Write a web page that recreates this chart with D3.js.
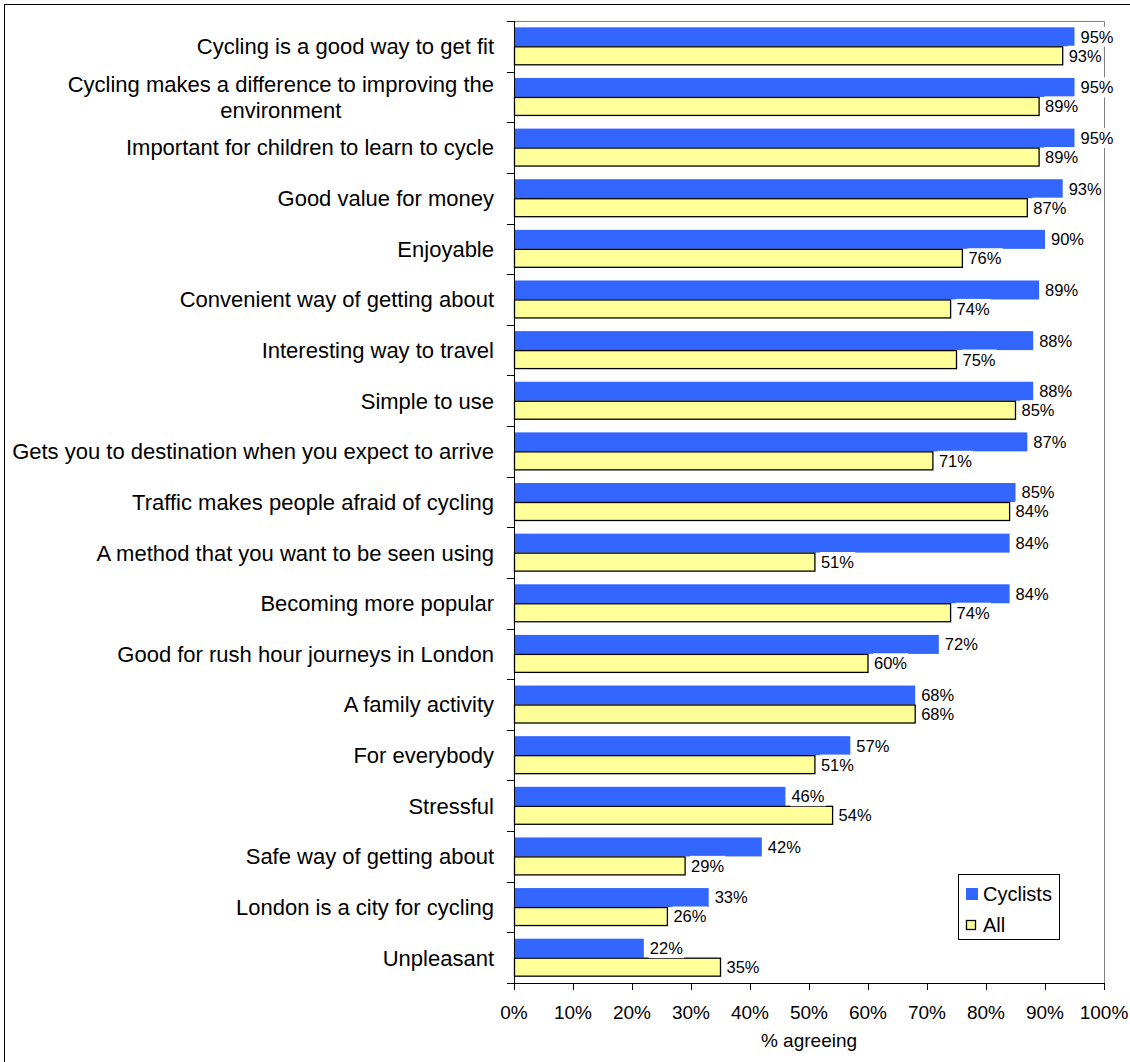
<!DOCTYPE html>
<html>
<head>
<meta charset="utf-8">
<script src="https://cdn.jsdelivr.net/npm/d3@7"></script>
<style>
  html, body { margin: 0; padding: 0; background: #fff; }
  svg { display: block; font-family: Arial, "Liberation Sans", Helvetica, sans-serif; }
</style>
</head>
<body>
<svg id="chart" width="1130" height="1062"></svg>
<script>
// Attitudes to cycling: share agreeing with each statement
const categories = [
  "Cycling is a good way to get fit",
  "Cycling makes a difference to improving the|environment",
  "Important for children to learn to cycle",
  "Good value for money",
  "Enjoyable",
  "Convenient way of getting about",
  "Interesting way to travel",
  "Simple to use",
  "Gets you to destination when you expect to arrive",
  "Traffic makes people afraid of cycling",
  "A method that you want to be seen using",
  "Becoming more popular",
  "Good for rush hour journeys in London",
  "A family activity",
  "For everybody",
  "Stressful",
  "Safe way of getting about",
  "London is a city for cycling",
  "Unpleasant"
];
const cyclists = [95, 95, 95, 93, 90, 89, 88, 88, 87, 85, 84, 84, 72, 68, 57, 46, 42, 33, 22];
const allPeople = [93, 89, 89, 87, 76, 74, 75, 85, 71, 84, 51, 74, 60, 68, 51, 54, 29, 26, 35];
const seriesNames = ["Cyclists", "All"];
const xTicks = [0, 10, 20, 30, 40, 50, 60, 70, 80, 90, 100];
const xTitle = "% agreeing";

const colors = { Cyclists: "#3366FF", All: "#FFFF99" };

const svg = d3.select("#chart");
const plot = { left: 514, right: 1104, top: 21, bottom: 983 };

// outer frame (runs off the right and bottom edges)
svg.append("rect")
  .attr("x", 4.5).attr("y", 4.5)
  .attr("width", 1200).attr("height", 1200)
  .attr("fill", "#fff").attr("stroke", "#000").attr("stroke-width", 1);

const x = d3.scaleLinear().domain([0, 100]).range([plot.left, plot.right]);
const y = d3.scaleBand().domain(d3.range(categories.length))
  .range([plot.top, plot.bottom]).paddingInner(0.25).paddingOuter(0.125);
const ySub = d3.scaleBand().domain(seriesNames).range([0, y.bandwidth()]);
const step = y.step();

// gray plot frame (top and right)
svg.append("path")
  .attr("d", `M${plot.left},${plot.top + 0.5}H${plot.right + 0.5}V${plot.bottom}`)
  .attr("fill", "none").attr("stroke", "#808080").attr("stroke-width", 1);

const rows = categories.map((c, i) => ({ i, label: c, values: [cyclists[i], allPeople[i]] }));

const g = svg.append("g");
const bars = g.selectAll("g.row").data(rows).join("g").attr("class", "row");

bars.each(function (d) {
  const sel = d3.select(this);
  seriesNames.forEach((s, k) => {
    const v = d.values[k];
    const y0 = y(d.i) + ySub(s);
    const h = ySub.bandwidth();
    if (s === "Cyclists") {
      sel.append("rect")
        .attr("x", x(0)).attr("y", y0)
        .attr("width", x(v) - x(0)).attr("height", h)
        .attr("fill", colors[s]);
    } else {
      sel.append("rect")
        .attr("x", x(0) + 0.5).attr("y", y0 + 0.5)
        .attr("width", x(v) - x(0) - 0.5).attr("height", h - 1)
        .attr("fill", colors[s]).attr("stroke", "#000").attr("stroke-width", 1.3);
    }
  });
});

// value labels with white backing boxes
const labelLayer = svg.append("g");
rows.forEach(d => {
  seriesNames.forEach((s, k) => {
    const v = d.values[k];
    const cy = y(d.i) + ySub(s) + ySub.bandwidth() / 2;
    const lg = labelLayer.append("g");
    const bg = lg.append("rect").attr("fill", "#fff");
    const t = lg.append("text")
      .attr("x", x(v) + 6).attr("y", cy)
      .attr("dy", "0.36em")
      .attr("font-size", 16.5)
      .attr("fill", "#000")
      .text(v + "%");
    const bb = t.node().getBBox();
    bg.attr("x", bb.x - 1).attr("y", bb.y - 1)
      .attr("width", bb.width + 2).attr("height", bb.height + 2);
  });
});

// left axis: category labels and ticks at group boundaries
const yAxis = svg.append("g");
yAxis.append("line")
  .attr("x1", plot.left + 0.5).attr("x2", plot.left + 0.5)
  .attr("y1", plot.top).attr("y2", plot.bottom + 7)
  .attr("stroke", "#000");
d3.range(categories.length + 1).forEach(k => {
  const yy = Math.round(plot.top + k * step) + 0.5;
  yAxis.append("line")
    .attr("x1", plot.left - 7).attr("x2", plot.left)
    .attr("y1", yy).attr("y2", yy).attr("stroke", "#000");
});
rows.forEach(d => {
  const lines = d.label.split("|");
  const cy = y(d.i) + y.bandwidth() / 2;
  const lh = 26;
  const t = yAxis.append("text")
    .attr("font-size", 22).attr("fill", "#000");
  lines.forEach((ln, j) => {
    t.append("tspan")
      .attr("y", cy + (j - (lines.length - 1) / 2) * lh)
      .attr("dy", "0.36em")
      .text(ln);
  });
  // lines centred within their block, block right-aligned to the axis
  const spans = t.selectAll("tspan").nodes();
  const widths = spans.map(n => n.getComputedTextLength());
  const maxW = d3.max(widths);
  const right = plot.left - 20;
  spans.forEach((n, j) => {
    d3.select(n).attr("x", right - maxW + (maxW - widths[j]) / 2);
  });
});

// bottom axis
const xAxis = svg.append("g");
xAxis.append("line")
  .attr("x1", plot.left).attr("x2", plot.right + 0.5)
  .attr("y1", plot.bottom + 0.5).attr("y2", plot.bottom + 0.5)
  .attr("stroke", "#000");
xTicks.forEach(tk => {
  const xx = Math.round(x(tk)) + 0.5;
  xAxis.append("line")
    .attr("x1", xx).attr("x2", xx)
    .attr("y1", plot.bottom).attr("y2", plot.bottom + 7)
    .attr("stroke", "#000");
  xAxis.append("text")
    .attr("x", x(tk)).attr("y", 1019)
    .attr("text-anchor", "middle")
    .attr("font-size", 19).attr("fill", "#000")
    .text(tk + "%");
});
svg.append("text")
  .attr("x", (plot.left + plot.right) / 2).attr("y", 1047)
  .attr("text-anchor", "middle")
  .attr("font-size", 19).attr("fill", "#000")
  .text(xTitle);

// legend
const legend = svg.append("g");
legend.append("rect")
  .attr("x", 958.5).attr("y", 874.5).attr("width", 101).attr("height", 65)
  .attr("fill", "#fff").attr("stroke", "#000");
legend.append("rect")
  .attr("x", 966).attr("y", 888).attr("width", 12).attr("height", 12)
  .attr("fill", colors.Cyclists);
legend.append("rect")
  .attr("x", 966.5).attr("y", 920.5).attr("width", 9).attr("height", 9)
  .attr("fill", colors.All).attr("stroke", "#000").attr("stroke-width", 1.3);
legend.append("text").attr("x", 983).attr("y", 894).attr("dy", "0.36em")
  .attr("font-size", 20).text(seriesNames[0]);
legend.append("text").attr("x", 983).attr("y", 925).attr("dy", "0.36em")
  .attr("font-size", 20).text(seriesNames[1]);
</script>
</body>
</html>
